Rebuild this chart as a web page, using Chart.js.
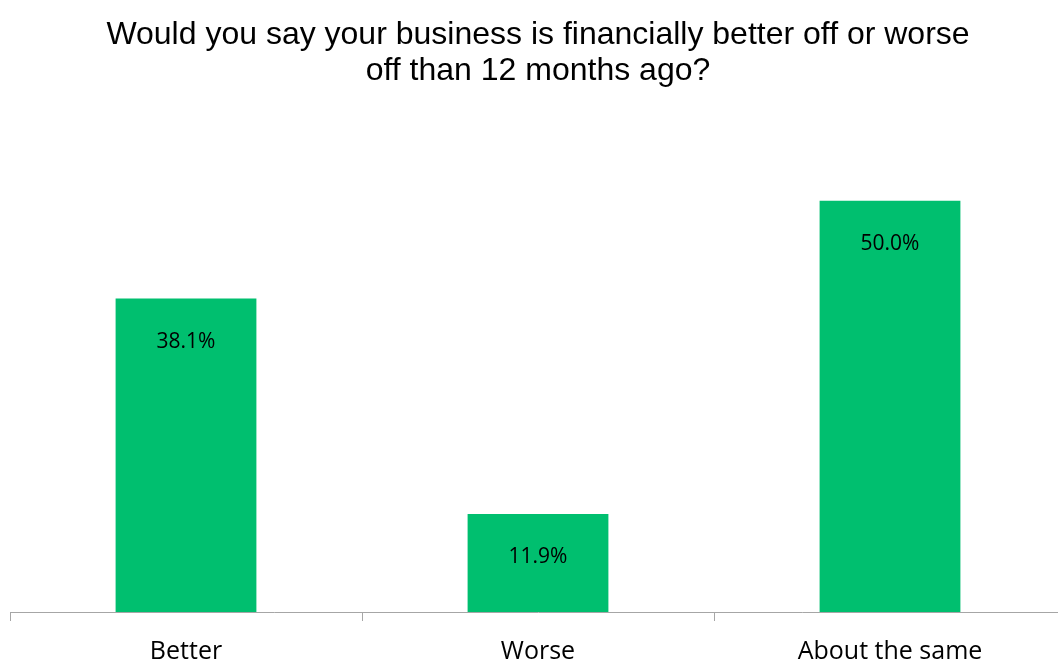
<!DOCTYPE html>
<html>
<head>
<meta charset="utf-8">
<script src="https://cdn.jsdelivr.net/npm/chart.js@4/dist/chart.umd.min.js"></script>
<style>
  html, body { margin: 0; padding: 0; background: #ffffff; overflow: hidden; }
  #wrap { position: relative; width: 1076px; height: 683px; }
</style>
</head>
<body>
<div id="wrap"><canvas id="chart" width="1076" height="683"></canvas></div>
<script>
// Survey: change in business finances over the last year
const categories = ['Better', 'Worse', 'About the same'];
const shares = [38.1, 11.9, 50.0];
const titleLines = ['Would you say your business is financially better off or worse', 'off than 12 months ago?'];

const barGreen = '#00BF6F';
const axisGrey = '#A6A6A6';

// writes the percentage just inside the top of each bar
const barValueLabels = {
  id: 'barValueLabels',
  afterDatasetsDraw(chart) {
    const { ctx } = chart;
    const meta = chart.getDatasetMeta(0);
    ctx.save();
    ctx.fillStyle = '#000000';
    ctx.font = "21px 'Open Sans', sans-serif";
    ctx.textAlign = 'center';
    ctx.textBaseline = 'middle';
    meta.data.forEach((bar, i) => {
      ctx.fillText(shares[i].toFixed(1) + '%', bar.x, bar.y + 43);
    });
    ctx.restore();
  }
};

new Chart(document.getElementById('chart'), {
  type: 'bar',
  data: {
    labels: categories,
    datasets: [{
      data: shares,
      backgroundColor: barGreen,
      borderWidth: 0,
      barPercentage: 0.4,
      categoryPercentage: 1
    }]
  },
  options: {
    responsive: false,
    animation: false,
    layout: { padding: { left: 10, right: 10, top: 6, bottom: 0 } },
    plugins: {
      legend: { display: false },
      tooltip: { enabled: false },
      title: {
        display: true,
        text: titleLines,
        color: '#000000',
        font: { family: "'Liberation Sans', Arial, sans-serif", size: 32, weight: 'normal', lineHeight: 1.1 },
        padding: { top: 12, bottom: 30 }
      }
    },
    scales: {
      x: {
        grid: {
          display: true,
          offset: true,
          drawOnChartArea: false,
          drawTicks: true,
          tickLength: 9,
          color: axisGrey
        },
        border: { display: true, color: axisGrey, width: 1 },
        ticks: {
          color: '#000000',
          padding: 16,
          font: { family: "'Open Sans', sans-serif", size: 25 }
        }
      },
      y: {
        display: false,
        min: 0,
        max: 60
      }
    }
  },
  plugins: [barValueLabels]
});
</script>
</body>
</html>
